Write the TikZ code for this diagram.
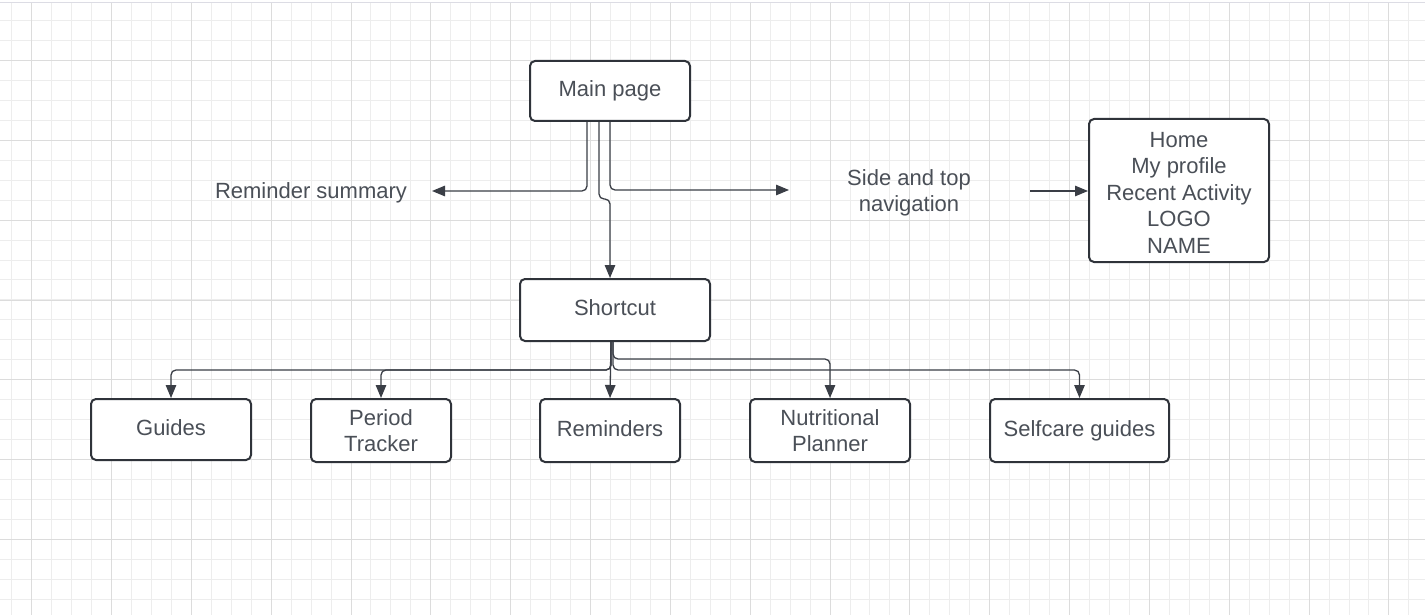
\documentclass[tikz,border=0pt]{standalone}
\usepackage{fontspec}
\setmainfont{Liberation Sans}
\usetikzlibrary{arrows.meta}
\definecolor{gridminor}{HTML}{EDEDED}
\definecolor{gridmajor}{HTML}{DCDCDC}
\definecolor{topline}{HTML}{DCDCE4}
\definecolor{boxline}{HTML}{2F333A}
\definecolor{conn}{HTML}{3A3E46}
\definecolor{txt}{HTML}{4A4F57}
\tikzset{
  box/.style={draw=boxline, line width=2pt, rounded corners=5pt, fill=white,
    inner sep=0pt, align=center, text=txt, font=\fontsize{22}{26.5}\selectfont},
  plain/.style={inner sep=0pt, align=center, text=txt, font=\fontsize{22}{26.5}\selectfont},
  conn/.style={draw=conn, line width=1.3pt, rounded corners=5pt,
    -{Triangle[length=13pt,width=10.5pt]}}
}
\begin{document}
\begin{tikzpicture}[x=1pt,y=-1pt]
\useasboundingbox (0,0) rectangle (1425,615);
\fill[white] (0,0) rectangle (1425,615);
% grid
\foreach \i in {0,...,71} {
  \pgfmathsetmacro\gx{floor(11.7+19.96*\i)+0.5}
  \draw[gridminor, line width=1pt] (\gx,3) -- (\gx,615);
}
\foreach \j in {1,...,30} {
  \pgfmathsetmacro\gy{floor(0.7+19.95*\j)+0.5}
  \draw[gridminor, line width=1pt] (0,\gy) -- (1425,\gy);
}
\foreach \i in {0,...,17} {
  \pgfmathsetmacro\gx{floor(31.7+79.84*\i)+0.5}
  \draw[gridmajor, line width=1pt] (\gx,3) -- (\gx,615);
}
\foreach \j in {0,...,6} {
  \pgfmathsetmacro\gy{floor(60.7+79.8*\j)+0.5}
  \draw[gridmajor, line width=1pt] (0,\gy) -- (1425,\gy);
}
\draw[topline, line width=1pt] (0,2.5) -- (1425,2.5);

% nodes
\node[box, minimum width=160pt, minimum height=60pt] (main) at (610,91) {Main page};
\node[plain] (rs) at (311,193) {Reminder summary};
\node[plain] (san) at (909,193) {Side and top\\navigation};
\node[box, minimum width=180pt, minimum height=143pt] (nav) at (1179,190.5)
  {\rule{0pt}{19.5pt}Home\\My profile\\Recent Activity\\LOGO\\NAME};
\node[box, minimum width=190pt, minimum height=62pt] (short) at (615,310) {Shortcut\vphantom{g}};
\node[box, minimum width=160pt, minimum height=61pt] (guides) at (171,429.5) {Guides\vphantom{g}};
\node[box, minimum width=140pt, minimum height=63pt] (period) at (381,430.5) {Period\\Tracker};
\node[box, minimum width=140pt, minimum height=63pt] (rem) at (610,430.5) {Reminders\vphantom{g}};
\node[box, minimum width=160pt, minimum height=63pt] (nutri) at (830,430.5) {Nutritional\\Planner};
\node[box, minimum width=179pt, minimum height=63pt] (self) at (1079.5,430.5) {Selfcare guides};

% free ends
\coordinate (rsend) at (432,191);
\coordinate (sanend) at (789,190);
\coordinate (sanstart) at (1030,191);

% connectors from main page
\draw[conn] ([xshift=-23pt]main.south) |- (rsend);
\draw[conn] (main.south) |- (sanend);
\draw[conn] ([xshift=-11pt]main.south) -- ([xshift=-11pt]main.south |- 0,199)
  -- ([xshift=-5pt]short.north |- 0,199) -- ([xshift=-5pt]short.north);
\draw[conn] (sanstart) -- (sanstart -| nav.west);

% connectors from shortcut
\draw[conn] ([xshift=-4pt]short.south) -- ([xshift=-4pt]short.south |- 0,370)
  -- (guides.north |- 0,370) -- (guides.north);
\draw[conn] ([xshift=-4pt]short.south) -- ([xshift=-4pt]short.south |- 0,370)
  -- (period.north |- 0,370) -- (period.north);
\draw[conn] ([xshift=-4pt]short.south) -- (rem.north);
\draw[conn] ([xshift=-2pt]short.south) -- ([xshift=-2pt]short.south |- 0,359)
  -- (nutri.north |- 0,359) -- (nutri.north);
\draw[conn] ([xshift=-2pt]short.south) -- ([xshift=-2pt]short.south |- 0,370)
  -- (self.north |- 0,370) -- (self.north);
\end{tikzpicture}
\end{document}
